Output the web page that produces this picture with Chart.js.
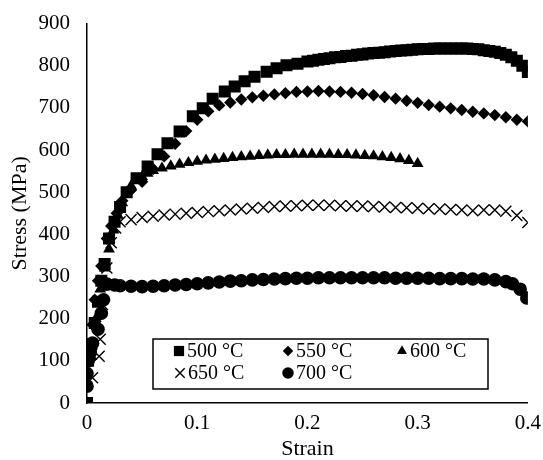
<!DOCTYPE html>
<html>
<head>
<meta charset="utf-8">
<script src="https://cdn.jsdelivr.net/npm/chart.js@4/dist/chart.umd.min.js"></script>
<style>
  html, body { margin: 0; padding: 0; background: #fff; }
  #wrap { width: 543px; height: 460px; }
</style>
</head>
<body>
<div id="wrap"><canvas id="chart1"></canvas></div>
<script>
// stress-strain data
var strain500 = [0, 0.001, 0.004, 0.007, 0.01, 0.013, 0.016, 0.02, 0.025, 0.03, 0.036, 0.045, 0.055, 0.064, 0.073, 0.084, 0.096, 0.105, 0.114, 0.125, 0.134, 0.143, 0.152, 0.163, 0.172, 0.181, 0.191, 0.2,
  0.205, 0.21, 0.215, 0.22, 0.225, 0.23, 0.235, 0.24, 0.245, 0.25, 0.255, 0.26, 0.265, 0.27, 0.275, 0.28, 0.285, 0.29, 0.295, 0.3,
  0.305, 0.31, 0.315, 0.32, 0.325, 0.33, 0.335, 0.34, 0.345, 0.35, 0.355, 0.36, 0.365, 0.37, 0.375, 0.38, 0.385, 0.39, 0.395, 0.4];
var stress500 = [0, 100, 140, 190, 240, 290, 330, 390, 430, 465, 500, 533, 561, 590, 616, 644, 680, 699, 722, 739, 751, 763, 774, 786, 794, 801, 805, 810,
  812, 814, 816, 818, 820, 821, 823, 824, 826, 827, 829, 830, 831, 832, 834, 835, 836, 837, 838, 839,
  840, 840, 841, 841, 841, 841, 841, 841, 841, 840, 839, 837, 835, 833, 830, 826, 820, 812, 800, 785];

var strain550 = [0, 0.003, 0.005, 0.007, 0.01, 0.013, 0.018, 0.022, 0.027, 0.032, 0.04, 0.05, 0.06, 0.07, 0.08, 0.09, 0.1, 0.11, 0.12, 0.13, 0.14, 0.15, 0.16, 0.17, 0.18, 0.19, 0.2,
  0.21, 0.22, 0.23, 0.24, 0.25, 0.26, 0.27, 0.28, 0.29, 0.3, 0.31, 0.32, 0.33, 0.34, 0.35, 0.36, 0.37, 0.38, 0.39, 0.4];
var stress550 = [0, 120, 186, 245, 290, 325, 390, 420, 450, 480, 505, 525, 555, 585, 615, 645, 672, 692, 706, 713, 720, 725, 729, 732, 735, 738, 739,
  740, 739, 738, 736, 733, 730, 726, 722, 717, 712, 707, 703, 699, 695, 691, 687, 683, 678, 672, 668];

var strain600 = [0, 0.004, 0.008, 0.012, 0.016, 0.02, 0.024, 0.028, 0.032, 0.036, 0.04, 0.045, 0.05, 0.055, 0.06,
  0.068, 0.076, 0.084, 0.092, 0.1, 0.108, 0.116, 0.124, 0.132, 0.14, 0.148, 0.156, 0.164, 0.172, 0.18,
  0.188, 0.196, 0.204, 0.212, 0.22, 0.228, 0.236, 0.244, 0.252, 0.26, 0.268, 0.276, 0.284, 0.292, 0.3];
var stress600 = [0, 110, 200, 270, 320, 365, 410, 445, 475, 500, 515, 528, 537, 545, 551,
  557, 562, 566, 570, 573, 576, 578, 580, 582, 584, 585, 587, 588, 589, 589,
  590, 590, 590, 590, 590, 589, 589, 588, 587, 586, 584, 582, 579, 575, 568];

var strain650 = [0, 0.005, 0.011, 0.012, 0.014, 0.018, 0.022, 0.026, 0.03, 0.04, 0.05, 0.06, 0.07, 0.08, 0.09, 0.1, 0.11, 0.12, 0.13, 0.14, 0.15, 0.16, 0.17, 0.18, 0.19, 0.2,
  0.21, 0.22, 0.23, 0.24, 0.25, 0.26, 0.27, 0.28, 0.29, 0.3, 0.31, 0.32, 0.33, 0.34, 0.35, 0.36, 0.37, 0.38, 0.39, 0.4];
var stress650 = [0, 60, 111, 151, 234, 320, 380, 415, 430, 435, 440, 443, 446, 448, 450, 452, 454, 456, 458, 460, 462, 464, 466, 467, 468, 469,
  469, 469, 468, 467, 467, 466, 465, 464, 463, 462, 461, 460, 459, 458, 456, 458, 458, 455, 445, 428];

var strain700 = [0, 0, 0.001, 0.003, 0.005, 0.01, 0.013, 0.015, 0.018, 0.025, 0.03, 0.04, 0.05, 0.06, 0.07, 0.08, 0.09, 0.1, 0.11, 0.12, 0.13, 0.14, 0.15, 0.16, 0.17, 0.18, 0.19, 0.2,
  0.21, 0.22, 0.23, 0.24, 0.25, 0.26, 0.27, 0.28, 0.29, 0.3, 0.31, 0.32, 0.33, 0.34, 0.35, 0.36, 0.37, 0.38, 0.386, 0.393, 0.399];
var stress700 = [40, 70, 100, 120, 142, 175, 213, 245, 282, 280, 278, 277, 276, 277, 278, 280, 281, 283, 285, 287, 289, 290, 292, 293, 294, 295, 296, 296,
  297, 297, 297, 297, 297, 297, 297, 296, 296, 296, 296, 295, 295, 295, 294, 294, 292, 288, 283, 270, 249];

var seriesNames = ['500 \u00B0C', '550 \u00B0C', '600 \u00B0C', '650 \u00B0C', '700 \u00B0C'];
var xTicks = [0, 0.1, 0.2, 0.3, 0.4];
var yTicks = [0, 100, 200, 300, 400, 500, 600, 700, 800, 900];

function pairs(xs, ys) {
    return xs.map(function (x, i) { return {x: x, y: ys[i]}; });
}

var FONT = '"Liberation Serif", "Times New Roman", serif';

var marker = [
    {pointStyle: 'rect', radius: 8.5, borderWidth: 0},
    {pointStyle: 'rectRot', radius: 6.2, borderWidth: 0},
    {pointStyle: 'triangle', radius: 6.8, borderWidth: 0},
    {pointStyle: 'crossRot', radius: 7.8, borderWidth: 1.4},
    {pointStyle: 'circle', radius: 6.8, borderWidth: 0}
];

var allData = [
    pairs(strain500, stress500),
    pairs(strain550, stress550),
    pairs(strain600, stress600),
    pairs(strain650, stress650),
    pairs(strain700, stress700)
];

var datasets = allData.map(function (d, i) {
    return {
        label: seriesNames[i],
        data: d,
        showLine: false,
        pointStyle: marker[i].pointStyle,
        pointRadius: marker[i].radius,
        pointBorderWidth: marker[i].borderWidth,
        pointBackgroundColor: 'black',
        pointBorderColor: 'black',
        order: 5 - i   // later series drawn on top, like the original
    };
});

// legend box inside the plot area
var boxLegend = {
    id: 'boxLegend',
    afterDraw: function (chart) {
        var c = chart.ctx;
        var pos = [[179, 351], [288, 351], [402, 351], [180, 373], [288, 373]];
        c.save();
        c.fillStyle = 'white';
        c.fillRect(153, 339, 335, 50);
        c.strokeStyle = 'black';
        c.lineWidth = 1.5;
        c.strokeRect(153, 339, 335, 50);
        c.font = '20px ' + FONT;
        c.textBaseline = 'middle';
        for (var i = 0; i < 5; i++) {
            c.fillStyle = 'black';
            c.strokeStyle = 'black';
            c.lineWidth = marker[i].borderWidth || 1;
            var opt = {pointStyle: marker[i].pointStyle, radius: marker[i].radius * 0.85,
                rotation: 0, borderWidth: marker[i].borderWidth};
            Chart.helpers.drawPoint(c, opt, pos[i][0], pos[i][1]);
            c.fillStyle = 'black';
            c.fillText(seriesNames[i], pos[i][0] + 8, pos[i][1] + 1);
        }
        c.restore();
    }
};

var ctx = document.getElementById('chart1');
var myChart = new Chart(ctx, {
    type: 'scatter',
    data: {datasets: datasets},
    options: {
        responsive: true,
        maintainAspectRatio: false,
        animation: false,
        layout: {padding: {left: 0, right: 15, top: 22, bottom: 0}},
        plugins: {
            legend: {display: false},
            tooltip: {enabled: false}
        },
        scales: {
            x: {
                type: 'linear',
                min: 0,
                max: 0.4,
                afterBuildTicks: function (s) { s.ticks = xTicks.map(function (v) { return {value: v}; }); },
                afterFit: function (s) { s.height = 57; },
                grid: {display: false, drawTicks: true, tickLength: 6, tickColor: 'black'},
                border: {color: 'black', width: 1.5},
                ticks: {color: 'black', font: {family: FONT, size: 21}, padding: 2, maxRotation: 0,
                    callback: function (v) { return String(v); }},
                title: {display: true, text: 'Strain', color: 'black',
                    font: {family: FONT, size: 22, lineHeight: 1}, padding: {top: 0, bottom: 0}}
            },
            y: {
                type: 'linear',
                min: 0,
                max: 900,
                afterBuildTicks: function (s) { s.ticks = yTicks.map(function (v) { return {value: v}; }); },
                afterFit: function (s) { s.width = 87; },
                grid: {display: false, drawTicks: true, tickLength: 6, tickColor: 'black'},
                border: {color: 'black', width: 1.5},
                ticks: {color: 'black', font: {family: FONT, size: 21}, padding: 11},
                title: {display: true, text: 'Stress (MPa)', color: 'black',
                    font: {family: FONT, size: 22, lineHeight: 1}, padding: {top: 9, bottom: 0}}
            }
        }
    },
    plugins: [boxLegend]
});
</script>
</body>
</html>
